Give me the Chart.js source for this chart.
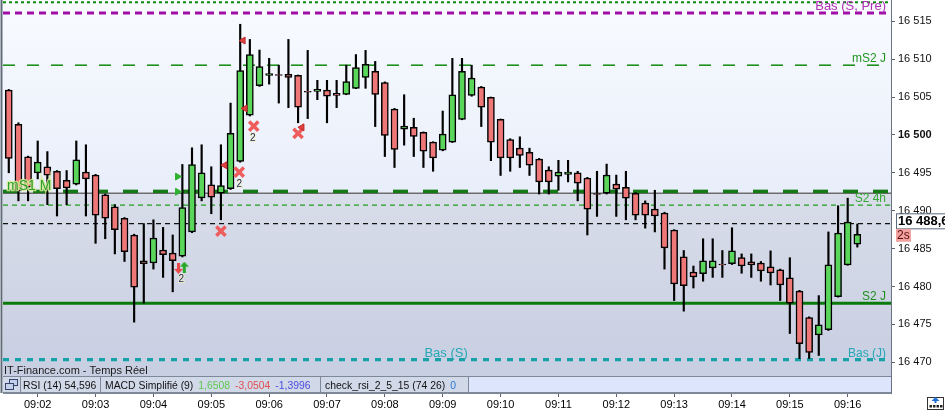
<!DOCTYPE html>
<html lang="fr">
<head>
<meta charset="UTF-8">
<title>Graphique 10 secondes</title>
<script src="https://cdn.jsdelivr.net/npm/chart.js@4"></script>
<style>
  html, body { margin: 0; padding: 0; background: #fff; }
  #wrap { width: 945px; height: 410px; position: relative; }
</style>
</head>
<body>
<div id="wrap"><canvas id="chart"></canvas></div>
<script>
// bougies 10 s
const times = [
  '09:01:30','09:01:40','09:01:50',
  '09:02:00','09:02:10','09:02:20','09:02:30','09:02:40','09:02:50',
  '09:03:00','09:03:10','09:03:20','09:03:30','09:03:40','09:03:50',
  '09:04:00','09:04:10','09:04:20','09:04:30','09:04:40','09:04:50',
  '09:05:00','09:05:10','09:05:20','09:05:30','09:05:40','09:05:50',
  '09:06:00','09:06:10','09:06:20','09:06:30','09:06:40','09:06:50',
  '09:07:00','09:07:10','09:07:20','09:07:30','09:07:40','09:07:50',
  '09:08:00','09:08:10','09:08:20','09:08:30','09:08:40','09:08:50',
  '09:09:00','09:09:10','09:09:20','09:09:30','09:09:40','09:09:50',
  '09:10:00','09:10:10','09:10:20','09:10:30','09:10:40','09:10:50',
  '09:11:00','09:11:10','09:11:20','09:11:30','09:11:40','09:11:50',
  '09:12:00','09:12:10','09:12:20','09:12:30','09:12:40','09:12:50',
  '09:13:00','09:13:10','09:13:20','09:13:30','09:13:40','09:13:50',
  '09:14:00','09:14:10','09:14:20','09:14:30','09:14:40','09:14:50',
  '09:15:00','09:15:10','09:15:20','09:15:30','09:15:40','09:15:50',
  '09:16:00','09:16:10'
];
const opens = [
  16505.9, 16501.4, 16497.1, 16495.0, 16495.8, 16495.2, 16494.0, 16493.5, 16495.1, 16494.7,
  16492.1, 16490.5, 16489.0, 16486.8, 16483.4, 16483.1, 16484.8, 16484.4, 16484.0, 16487.2,
  16491.7, 16493.4, 16492.3, 16492.9, 16496.5, 16502.6, 16506.5, 16507.85, 16507.95, 16508.0,
  16507.85, 16505.75, 16505.75, 16505.9, 16505.5, 16505.35, 16506.15, 16507.6, 16508.4, 16506.9,
  16503.4, 16500.75, 16501.0, 16500.35, 16499.05, 16498.0, 16499.05, 16502.05, 16505.2, 16506.3,
  16504.95, 16502.05, 16499.4, 16498.25, 16497.7, 16496.8, 16495.35, 16494.55, 16494.8, 16495.0,
  16494.3, 16492.25, 16492.3, 16493.5, 16493.1, 16492.3, 16491.0, 16490.2, 16489.7, 16487.45,
  16483.9, 16481.9, 16481.7, 16482.45, 16482.95, 16483.0, 16483.8, 16483.25, 16483.1, 16482.6,
  16482.2, 16481.15, 16479.4, 16475.9, 16473.6, 16474.3, 16478.65, 16482.85, 16485.6
];
const highs = [
  16506.0, 16501.6, 16497.2, 16499.2, 16497.8, 16495.3, 16495.3, 16499.2, 16498.7, 16494.8,
  16492.2, 16490.8, 16489.1, 16486.9, 16488.3, 16488.8, 16487.8, 16486.8, 16496.1, 16498.3,
  16498.7, 16495.8, 16498.7, 16504.2, 16514.6, 16512.6, 16511.2, 16510.1, 16509.2, 16512.6,
  16507.9, 16511.15, 16507.2, 16507.2, 16507.2, 16509.2, 16510.6, 16511.15, 16509.7, 16507.0,
  16503.5, 16505.3, 16502.2, 16500.4, 16499.1, 16503.15, 16510.1, 16510.1, 16509.2, 16506.4,
  16505.0, 16502.1, 16499.5, 16499.75, 16498.25, 16496.9, 16495.8, 16496.65, 16496.65, 16495.2,
  16494.4, 16495.2, 16496.15, 16494.7, 16495.2, 16492.4, 16491.3, 16492.7, 16489.8, 16487.5,
  16484.75, 16482.7, 16486.3, 16486.3, 16484.75, 16487.75, 16484.3, 16484.3, 16483.3, 16484.7,
  16482.3, 16483.8, 16479.5, 16476.0, 16478.8, 16487.2, 16490.65, 16491.65, 16488.25
];
const lows = [
  16495.0, 16491.3, 16491.3, 16494.2, 16490.8, 16489.3, 16490.8, 16493.4, 16489.3, 16485.7,
  16486.3, 16484.3, 16483.3, 16475.3, 16477.8, 16482.3, 16481.2, 16479.3, 16483.9, 16487.1,
  16491.3, 16489.6, 16488.8, 16492.8, 16496.4, 16502.5, 16506.4, 16506.7, 16504.2, 16503.6,
  16501.6, 16502.15, 16504.65, 16501.6, 16503.6, 16505.3, 16506.1, 16506.15, 16501.1, 16497.15,
  16495.7, 16498.65, 16497.15, 16495.7, 16495.2, 16497.9, 16499.0, 16502.0, 16505.1, 16501.1,
  16496.6, 16494.65, 16495.2, 16495.7, 16494.65, 16492.2, 16492.2, 16492.7, 16493.8, 16491.3,
  16486.8, 16489.25, 16492.2, 16489.25, 16488.8, 16488.8, 16487.7, 16487.2, 16482.3, 16478.15,
  16476.75, 16479.8, 16480.7, 16481.2, 16481.2, 16482.9, 16481.75, 16481.2, 16480.7, 16480.2,
  16478.15, 16473.8, 16470.5, 16470.5, 16470.9, 16474.2, 16478.6, 16482.8, 16485.2
];
const closes = [
  16496.9, 16492.6, 16493.1, 16496.4, 16494.7, 16492.9, 16493.0, 16496.7, 16494.2, 16489.4,
  16489.0, 16487.5, 16484.6, 16479.9, 16483.0, 16486.4, 16484.2, 16483.4, 16490.4, 16496.1,
  16495.0, 16491.8, 16493.3, 16500.2, 16508.5, 16510.6, 16509.0, 16508.1, 16507.85, 16507.6,
  16503.65, 16505.65, 16506.0, 16505.1, 16505.2, 16507.05, 16508.9, 16509.3, 16505.35, 16499.95,
  16498.1, 16501.15, 16499.8, 16497.85, 16496.95, 16500.1, 16505.3, 16508.4, 16507.5, 16503.65,
  16499.05, 16496.95, 16496.95, 16497.3, 16496.0, 16493.8, 16493.8, 16495.1, 16495.1, 16493.65,
  16490.2, 16492.15, 16494.7, 16492.85, 16491.65, 16489.4, 16489.4, 16489.3, 16485.1, 16480.35,
  16480.1, 16481.25, 16483.4, 16483.4, 16482.85, 16484.7, 16482.7, 16482.85, 16482.05, 16481.8,
  16480.2, 16477.8, 16472.45, 16471.3, 16474.95, 16482.85, 16487.05, 16488.5, 16486.9
];

// niveaux horizontaux
const levelNames  = ['haut', 'basSPre', 'mS2J', 'mS1M', 'pivot', 'S24h', 'dernier', 'S2J', 'basS', 'basJ'];
const levelValues = [16517.5, 16516.1, 16509.2, 16492.55, 16492.3, 16490.75, 16488.3, 16477.8, 16470.35, 16470.35];
const levelTexts  = ['', 'Bas (S, Pre)', 'mS2 J', 'mS1 M', '', 'S2 4h', '', 'S2 J', 'Bas (S)', 'Bas (J)'];

// signaux
const triUpTimes = ['09:04:25', '09:04:25'];
const triUpValues = [16494.5, 16492.5];
const triDownTimes = ['09:05:14', '09:05:33', '09:05:35', '09:06:34'];
const triDownValues = [16496.0, 16512.45, 16503.5, 16501.0];
const crossTimes = ['09:05:10', '09:05:29', '09:05:44', '09:06:30'];
const crossValues = [16487.3, 16495.1, 16501.15, 16500.2];
const arrowDownTimes = ['09:04:26'];
const arrowDownValues = [16482.4];
const arrowUpTimes = ['09:04:32'];
const arrowUpValues = [16482.55];
const countTimes = ['09:05:29', '09:05:43', '09:04:29'];
const countValues = [16493.55, 16499.6, 16480.9];
const countTexts = ['2', '2', '2'];

const lastPrice = 16488.6;
const xTicks = ['09:02', '09:03', '09:04', '09:05', '09:06', '09:07', '09:08', '09:09',
                '09:10', '09:11', '09:12', '09:13', '09:14', '09:15', '09:16'];
const yTicks = [16470, 16475, 16480, 16485, 16490, 16495, 16500, 16505, 16510, 16515];

const toSec = t => { const [h, m, s = 0] = t.split(':').map(Number); return (h - 9) * 3600 + m * 60 + s; };
const pts = (ts, vs) => ts.map((t, i) => ({x: toSec(t), y: vs[i]}));

const X_MIN = 84, X_MAX = 1004.9;
const Y_MIN = 16465.95, Y_MAX = 16517.8;

const levelStyle = {
  haut:    {color: '#0b8a0b', width: 2,   dash: [3, 3]},
  basSPre: {color: '#a010a8', width: 3,   dash: [7, 5],   text: '#b030b4', size: 13, at: 'right'},
  mS2J:    {color: '#108a10', width: 1.5, dash: [12, 12], text: '#1f961f', size: 12, at: 'right'},
  mS1M:    {color: '#157a15', width: 3.5, dash: [15, 15], text: '#2f9e2f', size: 14, at: 'left'},
  pivot:   {color: '#6c6c6c', width: 1.5, dash: []},
  S24h:    {color: '#1f9f1f', width: 1.3, dash: [5, 4],   text: '#35a835', size: 12, at: 'right'},
  dernier: {color: '#111111', width: 1.3, dash: [5, 4]},
  S2J:     {color: '#0a7a0a', width: 3,   dash: [],       text: '#1f8f1f', size: 12, at: 'right'},
  basS:    {color: '#16a2a6', width: 3,   dash: [6, 6],   text: '#25a7b6', size: 13, at: 'mid'},
  basJ:    {color: '#16a2a6', width: 3,   dash: [6, 6],   text: '#25a7b6', size: 12, at: 'right'}
};

function arrowImg(color, up) {
  const c = document.createElement('canvas');
  c.width = 9; c.height = 11;
  const g = c.getContext('2d');
  g.fillStyle = color;
  g.beginPath();
  if (up) {
    g.moveTo(4.5, 0); g.lineTo(9, 5); g.lineTo(6, 5); g.lineTo(6, 11); g.lineTo(3, 11); g.lineTo(3, 5); g.lineTo(0, 5);
  } else {
    g.moveTo(4.5, 11); g.lineTo(9, 6); g.lineTo(6, 6); g.lineTo(6, 0); g.lineTo(3, 0); g.lineTo(3, 6); g.lineTo(0, 6);
  }
  g.closePath(); g.fill();
  return c;
}

const secs = times.map(toSec);
const isUp = closes.map((c, i) => c >= opens[i]);

const levelSets = levelNames.map((n, i) => ({
  type: 'line',
  data: [{x: X_MIN, y: levelValues[i]}, {x: X_MAX, y: levelValues[i]}],
  borderColor: levelStyle[n].color,
  borderWidth: levelStyle[n].width,
  borderDash: levelStyle[n].dash,
  pointRadius: 0,
  order: 5
}));

const FONT = "'Liberation Sans', Arial, sans-serif";
Chart.defaults.font.family = FONT;
Chart.defaults.color = '#000';

const decor = {
  id: 'decor',
  beforeDraw(chart) {
    const {ctx, chartArea: a, scales: {y}} = chart;
    ctx.save();
    ctx.fillStyle = '#fff';
    ctx.fillRect(0, 0, chart.width, chart.height);
    const split = y.getPixelForValue(levelValues[levelNames.indexOf('pivot')]);
    let g = ctx.createLinearGradient(0, a.top, 0, split);
    g.addColorStop(0, '#f9fbff'); g.addColorStop(1, '#e8eefa');
    ctx.fillStyle = g;
    ctx.fillRect(a.left, a.top, a.width, split - a.top);
    g = ctx.createLinearGradient(0, split, 0, a.bottom);
    g.addColorStop(0, '#d8dde9'); g.addColorStop(1, '#c6cde1');
    ctx.fillStyle = g;
    ctx.fillRect(a.left, split, a.width, a.bottom - split);
    ctx.restore();
  },
  afterDatasetsDraw(chart) {
    const {ctx, chartArea: a, scales: {x, y}} = chart;
    ctx.save();
    // textes des niveaux
    levelNames.forEach((n, i) => {
      const st = levelStyle[n];
      if (!levelTexts[i]) return;
      const py = y.getPixelForValue(levelValues[i]);
      ctx.font = st.size + 'px ' + FONT;
      ctx.textBaseline = 'alphabetic';
      if (st.at === 'left') {
        ctx.textAlign = 'left';
        ctx.lineWidth = 2.5; ctx.strokeStyle = 'rgba(215,235,150,0.85)';
        ctx.strokeText(levelTexts[i], a.left + 4, py - 1.5);
        ctx.fillStyle = st.text;
        ctx.fillText(levelTexts[i], a.left + 4, py - 1.5);
      } else if (st.at === 'mid') {
        ctx.textAlign = 'center';
        ctx.fillStyle = st.text;
        ctx.fillText(levelTexts[i], a.left + a.width * 0.499, py - 3);
      } else {
        ctx.textAlign = 'right';
        ctx.fillStyle = st.text;
        ctx.fillText(levelTexts[i], a.right - 5, py - 3);
      }
    });
    // compteurs sous les signaux
    ctx.font = '10px ' + FONT;
    ctx.textAlign = 'center';
    ctx.textBaseline = 'middle';
    countTimes.forEach((t, i) => {
      const px = x.getPixelForValue(toSec(t)), py = y.getPixelForValue(countValues[i]);
      ctx.lineWidth = 2; ctx.strokeStyle = 'rgba(240,240,200,0.8)';
      ctx.strokeText(countTexts[i], px, py);
      ctx.fillStyle = '#1c2050';
      ctx.fillText(countTexts[i], px, py);
    });
    ctx.restore();
  },
  afterDraw(chart) {
    const {ctx, chartArea: a, scales: {y}} = chart;
    ctx.save();
    // bordure gauche
    ctx.strokeStyle = '#5f6b78'; ctx.lineWidth = 2;
    ctx.beginPath(); ctx.moveTo(1.5, 0); ctx.lineTo(1.5, a.bottom); ctx.stroke();

    // source
    ctx.font = '11px ' + FONT;
    ctx.fillStyle = '#1a1a1a';
    ctx.textAlign = 'left'; ctx.textBaseline = 'alphabetic';
    ctx.fillText('IT-Finance.com - Temps Réel', a.left + 1, a.bottom - 19.5);

    // barre d'indicateurs
    const top = a.bottom - 17;
    ctx.fillStyle = '#dce5fb';
    ctx.fillRect(a.left, top, a.width, 17);
    ctx.fillStyle = '#d1d9e9';
    ctx.fillRect(a.left, top, 465, 17);
    ctx.strokeStyle = '#7d8899'; ctx.lineWidth = 1;
    ctx.beginPath();
    ctx.moveTo(a.left, top + 0.5); ctx.lineTo(a.right, top + 0.5);
    ctx.moveTo(a.left, a.bottom - 0.5); ctx.lineTo(a.right, a.bottom - 0.5);
    [20, 100, 320, 468].forEach(sx => { ctx.moveTo(sx + 0.5, top); ctx.lineTo(sx + 0.5, a.bottom); });
    ctx.stroke();
    // icône fenêtres
    ctx.fillStyle = '#c4d0ea'; ctx.strokeStyle = '#34446c'; ctx.lineWidth = 1;
    ctx.fillRect(9.5, top + 3.5, 8, 6); ctx.strokeRect(9.5, top + 3.5, 8, 6);
    ctx.fillRect(5.5, top + 7.5, 8, 6); ctx.strokeRect(5.5, top + 7.5, 8, 6);

    ctx.font = '10.4px ' + FONT;
    const base = a.bottom - 4.5;
    const seq = (x0, parts) => {
      let cx = x0;
      parts.forEach(([txt, col]) => {
        ctx.fillStyle = col;
        ctx.fillText(txt, cx, base);
        cx += ctx.measureText(txt).width + 5;
      });
    };
    seq(23, [['RSI (14) 54,596', '#111']]);
    seq(105, [['MACD Simplifié (9)', '#111'], ['1,6508', '#5ec850'], ['-3,0504', '#e05050'], ['-1,3996', '#4c4ce0']]);
    seq(325, [['check_rsi_2_5_15 (74 26)', '#111'], ['0', '#2a78d0']]);

    // étiquette du dernier cours
    const py = y.getPixelForValue(lastPrice);
    ctx.fillStyle = '#fff';
    ctx.fillRect(a.right + 5, py - 7.5, 60, 15);
    ctx.strokeStyle = '#5a6a80'; ctx.lineWidth = 1;
    ctx.strokeRect(a.right + 5.5, py - 7.5, 60, 15);
    ctx.font = 'bold 13px ' + FONT;
    ctx.fillStyle = '#000'; ctx.textBaseline = 'middle';
    ctx.fillText(lastPrice.toFixed(1).replace('.', ',').replace(/^(\d{2})(\d{3})/, '$1 $2'), a.right + 7, py + 0.5);
    ctx.fillStyle = '#f3a2a2';
    ctx.fillRect(a.right + 5, py + 7.5, 15, 13);
    ctx.font = '12px ' + FONT;
    ctx.fillStyle = '#5a0c0c';
    ctx.fillText('2s', a.right + 6, py + 14.5);

    // icône en bas à droite
    ctx.strokeStyle = '#333'; ctx.fillStyle = '#fff';
    ctx.fillRect(927.5, 397.5, 16, 12); ctx.strokeRect(927.5, 397.5, 16, 12);
    ctx.fillStyle = '#222';
    for (let k = 0; k < 4; k++) ctx.fillRect(929.5 + k * 3.5, 405, 2.5, 2.5);
    ctx.fillStyle = '#1f6fd8';
    ctx.beginPath(); ctx.moveTo(935.5, 397); ctx.lineTo(939.5, 401); ctx.lineTo(931.5, 401); ctx.closePath(); ctx.fill();
    ctx.fillRect(934.5, 400, 2, 3);
    ctx.restore();
  }
};

new Chart(document.getElementById('chart'), {
  type: 'bar',
  data: {
    datasets: [
      ...levelSets,
      {
        type: 'bar',
        data: secs.map((s, i) => ({x: s, y: [lows[i], highs[i]]})),
        backgroundColor: '#000',
        barThickness: 1.5,
        grouped: false,
        order: 3
      },
      {
        type: 'bar',
        data: secs.map((s, i) => ({x: s, y: [opens[i], closes[i]]})),
        backgroundColor: isUp.map(u => u ? '#5ad65a' : '#f07777'),
        borderColor: '#000',
        borderWidth: 1.5,
        borderSkipped: false,
        barThickness: 7,
        grouped: false,
        order: 2
      },
      {
        type: 'scatter',
        data: pts(triUpTimes, triUpValues),
        pointStyle: 'triangle', rotation: 90, radius: 4,
        backgroundColor: '#30b030', borderColor: '#30b030', borderWidth: 1,
        order: 0
      },
      {
        type: 'scatter',
        data: pts(triDownTimes, triDownValues),
        pointStyle: 'triangle', rotation: -90, radius: 4,
        backgroundColor: '#e04040', borderColor: '#c02828', borderWidth: 1,
        order: 0
      },
      {
        type: 'scatter',
        data: pts(crossTimes, crossValues),
        pointStyle: 'crossRot', radius: 6.5,
        borderColor: '#ef5c5c', borderWidth: 3.5,
        order: 0
      },
      {
        type: 'scatter',
        data: pts(arrowDownTimes, arrowDownValues),
        pointStyle: arrowImg('#e84848', false),
        order: 0
      },
      {
        type: 'scatter',
        data: pts(arrowUpTimes, arrowUpValues),
        pointStyle: arrowImg('#28a828', true),
        order: 0
      }
    ]
  },
  options: {
    responsive: true,
    maintainAspectRatio: false,
    animation: false,
    events: [],
    layout: {padding: {left: 3, top: 0, right: 0, bottom: 0}, autoPadding: false},
    plugins: {legend: {display: false}, tooltip: {enabled: false}},
    scales: {
      x: {
        type: 'linear',
        min: X_MIN, max: X_MAX,
        offset: false,
        grid: {drawOnChartArea: false, offset: false, tickLength: 4, color: '#5a6470'},
        border: {color: '#7d8899'},
        ticks: {
          padding: 1, maxRotation: 0, autoSkip: false,
          font: {size: 11}, color: '#000',
          callback: v => {
            const h = 9 + Math.floor(v / 3600), m = Math.floor(v / 60) % 60;
            return String(h).padStart(2, '0') + ':' + String(m).padStart(2, '0');
          }
        },
        afterBuildTicks: s => { s.ticks = xTicks.map(t => ({value: toSec(t)})); },
        afterFit: s => { s.height = 17; s.paddingLeft = 0; s.paddingRight = 0; }
      },
      y: {
        position: 'right',
        min: Y_MIN, max: Y_MAX,
        grid: {drawOnChartArea: false, tickLength: 4, color: '#5a6470'},
        border: {color: '#6a7480'},
        ticks: {
          padding: 3, color: '#111',
          font: c => ({size: 11, weight: c.tick && c.tick.value === 16500 ? 'bold' : 'normal'}),
          callback: v => String(v).replace(/^(\d{2})(\d{3})$/, '$1 $2')
        },
        afterBuildTicks: s => { s.ticks = yTicks.map(v => ({value: v})); },
        afterFit: s => { s.width = 54; s.paddingTop = 0; s.paddingBottom = 0; }
      }
    }
  },
  plugins: [decor]
});
</script>
</body>
</html>
